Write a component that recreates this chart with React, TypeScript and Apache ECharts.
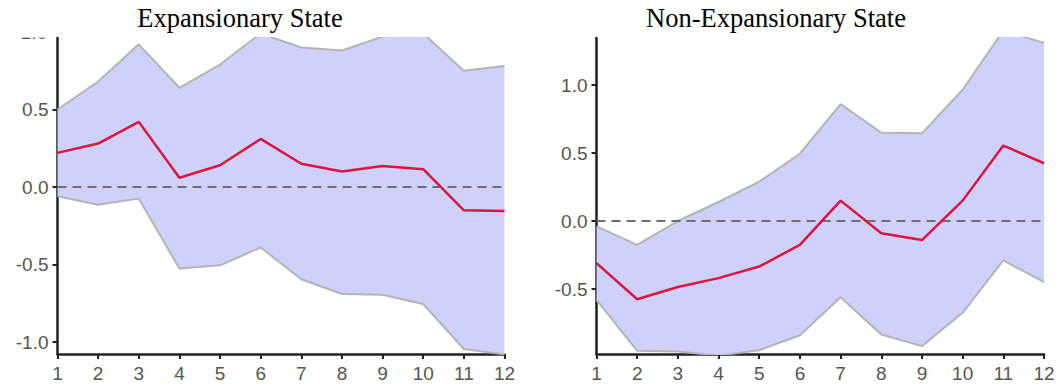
import React, { useEffect, useRef } from "react";
import * as echarts from "echarts";

const categories = ["1", "2", "3", "4", "5", "6", "7", "8", "9", "10", "11", "12"];

const expUpper = [0.5, 0.68, 0.92, 0.64, 0.79, 0.99, 0.9, 0.88, 0.97, 0.99, 0.75, 0.78];
const expMid = [0.22, 0.28, 0.42, 0.06, 0.14, 0.31, 0.15, 0.1, 0.135, 0.115, -0.15, -0.155];
const expLower = [-0.06, -0.115, -0.075, -0.525, -0.505, -0.39, -0.595, -0.69, -0.695, -0.755, -1.045, -1.08];

const nonUpper = [-0.04, -0.175, 0.0, 0.14, 0.29, 0.495, 0.86, 0.65, 0.645, 0.965, 1.4, 1.31];
const nonMid = [-0.31, -0.575, -0.485, -0.42, -0.335, -0.175, 0.15, -0.09, -0.14, 0.15, 0.555, 0.425];
const nonLower = [-0.58, -0.955, -0.96, -0.99, -0.95, -0.84, -0.56, -0.835, -0.92, -0.675, -0.29, -0.45];

const expTicks = [-1.0, -0.5, 0.0, 0.5];
const nonTicks = [-0.5, 0.0, 0.5, 1.0];
const clippedTickLabel = "1.0";

const titles = ["Expansionary State", "Non-Expansionary State"];

const BAND_FILL = "rgb(208,208,252)";
const BAND_EDGE = "#b4b4b4";
const RED = "#dc143c";
const LABEL_FONT = "Liberation Sans";
const LABEL_SIZE = 19;

function panelSeries(idx: number, lower: number[], upper: number[], mid: number[]) {
  const diff = upper.map((u, i) => u - lower[i]);
  const zeros = categories.map(() => 0);
  const stack = "band" + idx;
  return [
    {
      type: "line",
      xAxisIndex: idx,
      yAxisIndex: idx,
      data: lower,
      stack,
      stackStrategy: "all",
      symbol: "none",
      lineStyle: { color: BAND_EDGE, width: 2 },
      z: 2,
    },
    {
      type: "line",
      xAxisIndex: idx,
      yAxisIndex: idx,
      data: diff,
      stack,
      stackStrategy: "all",
      symbol: "none",
      lineStyle: { color: BAND_EDGE, width: 2 },
      areaStyle: { color: BAND_FILL, opacity: 1 },
      z: 2,
    },
    {
      type: "line",
      xAxisIndex: idx,
      yAxisIndex: idx,
      data: zeros,
      symbol: "none",
      lineStyle: { color: "#6e6e6e", width: 2, type: [9, 6] },
      z: 3,
    },
    {
      type: "line",
      xAxisIndex: idx,
      yAxisIndex: idx,
      data: mid,
      symbol: "none",
      lineStyle: { color: RED, width: 2.5 },
      z: 4,
    },
  ];
}

function xAxis(idx: number) {
  return {
    type: "category",
    gridIndex: idx,
    data: categories,
    boundaryGap: false,
    axisLine: { show: true, onZero: false, lineStyle: { color: "#222", width: 2.5 } },
    axisTick: { show: true, length: 5, lineStyle: { color: "#222", width: 2 } },
    axisLabel: {
      color: "#555",
      fontSize: LABEL_SIZE,
      fontFamily: LABEL_FONT,
      margin: 10,
      interval: 0,
    },
    splitLine: { show: false },
  };
}

function yAxis(idx: number, min: number, max: number, ticks: number[]) {
  return {
    type: "value",
    gridIndex: idx,
    min,
    max,
    axisLine: { show: true, onZero: false, lineStyle: { color: "#222", width: 2.5 } },
    axisTick: { show: true, length: 5, customValues: ticks, lineStyle: { color: "#222", width: 2 } },
    axisLabel: {
      color: "#555",
      fontSize: LABEL_SIZE,
      fontFamily: LABEL_FONT,
      margin: 9,
      customValues: ticks,
      formatter: (v: number) => v.toFixed(1),
    },
    splitLine: { show: false },
  };
}

export default function App() {
  const ref = useRef<HTMLDivElement>(null);
  useEffect(() => {
    if (!ref.current) return;
    const chart = echarts.init(ref.current, undefined, { renderer: "svg" });
    chart.setOption({
      animation: false,
      backgroundColor: "#fff",
      grid: [
        { left: 57.5, top: 38, width: 447, height: 316 },
        { left: 596.5, top: 38, width: 447.5, height: 316 },
      ],
      xAxis: [xAxis(0), xAxis(1)],
      yAxis: [yAxis(0, -1.077, 0.961, expTicks), yAxis(1, -0.978, 1.346, nonTicks)],
      series: [
        ...panelSeries(0, expLower, expUpper, expMid),
        ...panelSeries(1, nonLower, nonUpper, nonMid),
      ],
      graphic: [
        {
          type: "text",
          x: 47,
          y: 32,
          z: 99,
          style: {
            text: clippedTickLabel,
            textAlign: "right",
            textVerticalAlign: "middle",
            fontFamily: LABEL_FONT,
            fontSize: LABEL_SIZE,
            fill: "#555",
          },
        },
        {
          type: "rect",
          z: 100,
          shape: { x: 0, y: 0, width: 56, height: 37.5 },
          style: { fill: "#fff" },
        },
        {
          type: "text",
          x: 240,
          y: 4,
          z: 101,
          style: {
            text: titles[0],
            textAlign: "center",
            textVerticalAlign: "top",
            fontFamily: "Liberation Serif",
            fontSize: 26.5,
            fill: "#000",
          },
        },
        {
          type: "text",
          x: 776,
          y: 4,
          z: 101,
          style: {
            text: titles[1],
            textAlign: "center",
            textVerticalAlign: "top",
            fontFamily: "Liberation Serif",
            fontSize: 26.5,
            fill: "#000",
          },
        },
      ],
    });
    return () => chart.dispose();
  }, []);
  return (
    <div
      ref={ref}
      style={{ position: "absolute", left: 0, top: 0, width: 1059, height: 386 }}
    />
  );
}
